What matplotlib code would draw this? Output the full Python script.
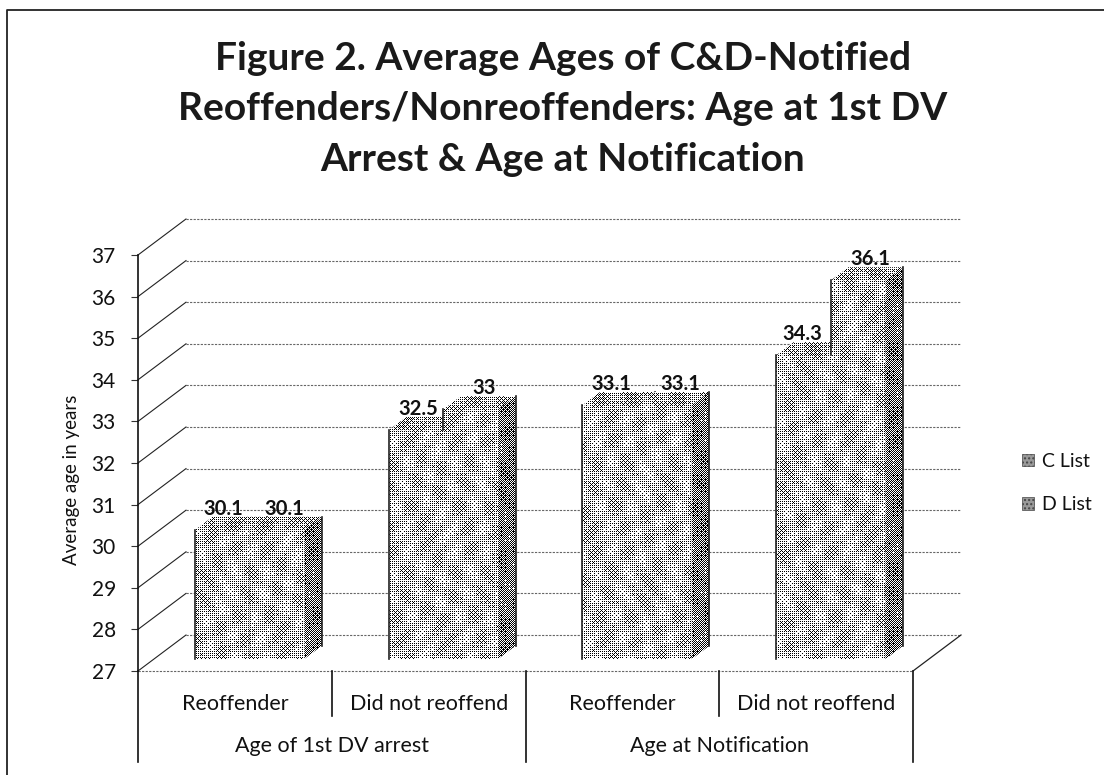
import numpy as np
import matplotlib
matplotlib.use('Agg')
import matplotlib.pyplot as plt
from matplotlib.patches import Polygon, Patch

plt.rcParams['font.family'] = ['Lato', 'DejaVu Sans']

# data
groups = ['Age of 1st DV arrest', 'Age at Notification']
categories = ['Reoffender', 'Did not reoffend', 'Reoffender', 'Did not reoffend']
c_list = [30.1, 32.5, 33.1, 34.3]
d_list = [30.1, 33, 33.1, 36.1]
y_ticks = list(range(27, 38))

# label nudges in pixels, Excel had moved a few of them by hand
c_nudge = [1, 2, 1, -1]
d_nudge = [7, 13, 16, 12]

W, H = 1104, 775
fig = plt.figure(figsize=(W / 100, H / 100), dpi=100)
ax = fig.add_axes([138 / W, 1 - 671 / H, (913 - 138) / W, (671 - 255) / H])
ax.set_xlim(0, 4)
ax.set_ylim(27, 37)

# 3d look: how far the back wall sits from the front plane, in data units
DX = 48 / 193.75
DY = 36 / 41.6
BAR_D0 = 1 / 3
BAR_D1 = 0.70
GAP = 0.2115
BAR_W = 0.282


def proj(x, y, d):
    return x + d * DX, y + d * DY


# scanned halftone look, ordered dither over a soft swirl
bayer = np.array([[0, 8, 2, 10], [12, 4, 14, 6], [3, 11, 1, 9], [15, 7, 13, 5]]) / 16
yy, xx = np.mgrid[0:H, 0:W]


def dither(level, amp):
    swirl = np.sin(xx / 5.0 + 2.2 * np.sin(yy / 17.0)) * np.sin(yy / 7.0 + 1.8 * np.sin(xx / 23.0))
    return (level + amp * swirl > bayer[yy % 4, xx % 4]).astype(float)


tex_front = dither(0.70, 0.13)
tex_top = dither(0.62, 0.12)
tex_side = dither(0.44, 0.08)


def face(points, tex, z):
    patch = Polygon(points, closed=True, facecolor='none', edgecolor='none',
                    transform=ax.transData, zorder=z)
    ax.add_patch(patch)
    im = ax.imshow(tex, extent=(0, 1, 0, 1), transform=fig.transFigure, aspect='auto',
                   cmap='gray', vmin=0.12, vmax=0.95, interpolation='nearest', zorder=z)
    im.set_clip_path(patch)


def bar3d(x0, x1, v, z, edge_from=27):
    a = proj(x0, 27, BAR_D0)
    b = proj(x1, 27, BAR_D0)
    c = proj(x1, v, BAR_D0)
    d = proj(x0, v, BAR_D0)
    e = proj(x0, v, BAR_D1)
    f = proj(x1, v, BAR_D1)
    g = proj(x1, 27, BAR_D1)
    face([a, b, c, d], tex_front, z)
    face([d, c, f, e], tex_top, z)
    face([b, g, f, c], tex_side, z)
    # left edge only shows where nothing stands beside it
    if edge_from < v:
        s = proj(x0, edge_from, BAR_D0)
        ax.plot([s[0], d[0]], [s[1], d[1]], color='#222222', lw=1.2, zorder=z + 0.1, clip_on=False)
    ax.plot([g[0], f[0]], [g[1], f[1]], color='#222222', lw=1.2, zorder=z + 0.1, clip_on=False)


# walls
dots = (0, (2, 1.2))
for t in y_ticks:
    x0, y0 = proj(0, t, 1)
    x1, y1 = proj(4, t, 1)
    ax.plot([x0, x1], [y0, y1], color='#666666', lw=0.8, ls=dots, clip_on=False, zorder=1)
    ax.plot([0, x0], [t, y0], color='#222222', lw=0.8, clip_on=False, zorder=1)
ax.plot([0, 4], [27, 27], color='#666666', lw=0.8, ls=dots, clip_on=False, zorder=1)
rx, ry = proj(4, 27, 1)
ax.plot([4, rx], [27, ry], color='#222222', lw=0.9, clip_on=False, zorder=1)

# bars
for i in range(4):
    left = i + GAP
    bar3d(left, left + BAR_W, c_list[i], 3 + i)
    bar3d(left + BAR_W, left + 2 * BAR_W, d_list[i], 3.5 + i, edge_from=c_list[i])
    for j, (val, nudge) in enumerate(((c_list[i], c_nudge[i]), (d_list[i], d_nudge[i]))):
        lx, ly = proj(left + (j + 0.5) * BAR_W, val, BAR_D0)
        ax.annotate(f'{val:g}', (lx, ly), xytext=(nudge * 0.72, 21 * 0.72), textcoords='offset points',
                    ha='center', va='center', fontsize=14.5, fontweight='bold', color='#111111',
                    zorder=20, annotation_clip=False)

# axes
for s in ['top', 'right', 'bottom']:
    ax.spines[s].set_visible(False)
ax.spines['left'].set_color('#111111')
ax.spines['left'].set_linewidth(1.2)
ax.set_xticks([])
ax.set_yticks(y_ticks)
ax.tick_params(axis='y', length=5, width=0.8, color='#333333', pad=11, labelsize=15, labelcolor='#111111')
fig.text(72 / W, 1 - 480 / H, 'Average age in years', rotation=90, ha='center', va='center',
         fontsize=13.5, color='#111111')

# two level category axis
tr = ax.get_xaxis_transform()
for x, depth in [(0, 0.218), (1, 0.108), (2, 0.218), (3, 0.108), (4, 0.218)]:
    ax.plot([x, x], [0, -depth], transform=tr, color='#111111', lw=1.2, clip_on=False)
for i, name in enumerate(categories):
    ax.text(i + 0.5, -0.079, name, transform=tr, ha='center', va='center', fontsize=15.5, color='#111111')
for i, name in enumerate(groups):
    ax.text(2 * i + 1, -0.18, name, transform=tr, ha='center', va='center', fontsize=15.5, color='#111111')

fig.text(563 / W, 1 - 109 / H,
         'Figure 2. Average Ages of C&D-Notified\nReoffenders/Nonreoffenders: Age at 1st DV\nArrest & Age at Notification',
         ha='center', va='center', fontsize=28, fontweight='bold', color='#1a1a1a', linespacing=1.54)

handles = [Patch(facecolor='#999999', edgecolor='#444444', hatch='....', lw=0.5, label='C List'),
           Patch(facecolor='#999999', edgecolor='#444444', hatch='....', lw=0.5, label='D List')]
fig.legend(handles=handles, loc='center left', bbox_to_anchor=(1022 / W, 1 - 483 / H), frameon=False,
           fontsize=14, handlelength=0.62, handleheight=0.62, handletextpad=0.42, labelspacing=1.35,
           borderpad=0, borderaxespad=0, labelcolor='#111111')

# chart frame, only top and left survived the scan
fig.add_artist(plt.Line2D([7 / W, 7 / W, 1], [0, 1 - 10 / H, 1 - 10 / H], color='#222222', lw=1.3))

fig.savefig('out.png', dpi=100)
